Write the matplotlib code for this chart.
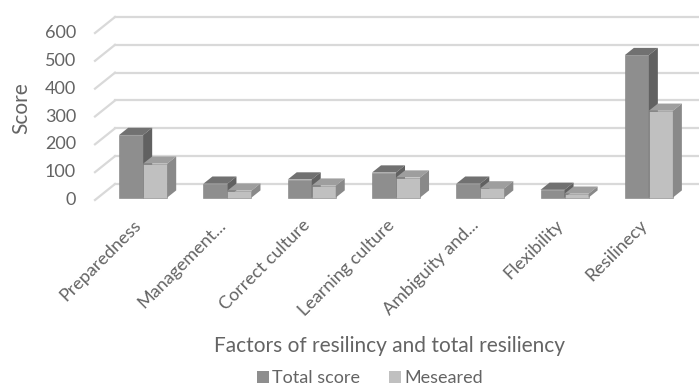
import matplotlib as mpl
mpl.use('Agg')
import matplotlib.pyplot as plt
from matplotlib.patches import Polygon, Rectangle
from matplotlib.lines import Line2D
import numpy as np

plt.rcParams['font.family'] = ['Lato', 'DejaVu Sans']

# --- data
categories = ['Preparedness', 'Management...', 'Correct culture', 'Learning culture',
              'Ambiguity and...', 'Flexibility', 'Resilinecy']
total_score = [225, 50, 65, 90, 50, 28, 512]
measured = [122, 25, 43, 72, 33, 14, 312]
series_names = ['Total score', 'Meseared']

yticks = [0, 100, 200, 300, 400, 500, 600]

# --- colours (front, top, side)
cols = [('#8e8e8e', '#717171', '#616161'),
        ('#c0c0c0', '#9e9e9e', '#898989')]
grid_c = '#d9d9d9'
text_c = '#646464'

# --- figure / axes in pixel terms
W, H = 699, 392
fig = plt.figure(figsize=(W / 100, H / 100), dpi=100)
ax_l, ax_r, ax_b, ax_t = 95, 688, 200, 33   # px, measured from top for b/t
ax = fig.add_axes([ax_l / W, (H - ax_b) / H, (ax_r - ax_l) / W, (ax_b - ax_t) / H])
xlim = (-0.536, 6.5)
ylim = (0, 600)
ax.set_xlim(xlim)
ax.set_ylim(ylim)
ax.axis('off')

pxx = (ax_r - ax_l) / (xlim[1] - xlim[0])   # px per x unit
pxy = (ax_b - ax_t) / (ylim[1] - ylim[0])   # px per value unit

# depth of the floor (back wall offset)
dx_full = 20 / pxx
dy_full = 16 / pxy
f0, f1 = 0.15, 0.6   # bar front/back depth fraction

# --- walls: gridlines on back wall + side diagonals
for v in yticks:
    ax.add_line(Line2D([xlim[0] + dx_full, xlim[1] + dx_full + 1],
                       [v + dy_full, v + dy_full], color=grid_c, lw=1.6,
                       clip_on=False, zorder=1))
    ax.add_line(Line2D([xlim[0], xlim[0] + dx_full], [v, v + dy_full],
                       color=grid_c, lw=1.6, clip_on=False, zorder=1))
    ax.text(xlim[0] - 19 / pxx, v, str(v), ha='right', va='center',
            fontsize=13, color=text_c)

# --- 3D-looking bars
bw = 0.285
ddx = (f1 - f0) * dx_full
ddy = (f1 - f0) * dy_full
b0 = f0 * dy_full
for s, vals in enumerate([total_score, measured]):
    front, top, side = cols[s]
    for i, v in enumerate(vals):
        x0 = i + (s - 1) * bw + f0 * dx_full
        x1 = x0 + bw
        ax.add_patch(Rectangle((x0, b0), bw, v, fc=front, ec='#808080', lw=0.4, zorder=3 + i))
        ax.add_patch(Polygon([(x0, b0 + v), (x1, b0 + v), (x1 + ddx, b0 + v + ddy),
                              (x0 + ddx, b0 + v + ddy)], closed=True, fc=top,
                             ec='none', zorder=3 + i))
        ax.add_patch(Polygon([(x1, b0), (x1, b0 + v), (x1 + ddx, b0 + v + ddy),
                              (x1 + ddx, b0 + ddy)], closed=True, fc=side,
                             ec='none', zorder=3 + i))

# --- category labels
for i, c in enumerate(categories):
    ax.text(i + 0.05, -17 / pxy, c, rotation=45, ha='right', va='top',
            fontsize=13, color=text_c)

# --- axis titles
fig.text(21 / W, 1 - 108 / H, 'Score', rotation=90, ha='center', va='center',
         fontsize=15, color=text_c)
fig.text(390 / W, 1 - 346 / H, 'Factors of resilincy and total resiliency',
         ha='center', va='center', fontsize=15, color=text_c)

# --- legend
handles = [Rectangle((0, 0), 1, 1, fc=cols[0][0]), Rectangle((0, 0), 1, 1, fc=cols[1][0])]
leg = fig.legend(handles, series_names, loc='center', bbox_to_anchor=(370 / W, 1 - 378 / H),
                 ncol=2, frameon=False, fontsize=13, handlelength=0.65, handleheight=0.65,
                 handletextpad=0.2, columnspacing=1.6)
for t in leg.get_texts():
    t.set_color(text_c)

fig.savefig('out.png', dpi=100)
